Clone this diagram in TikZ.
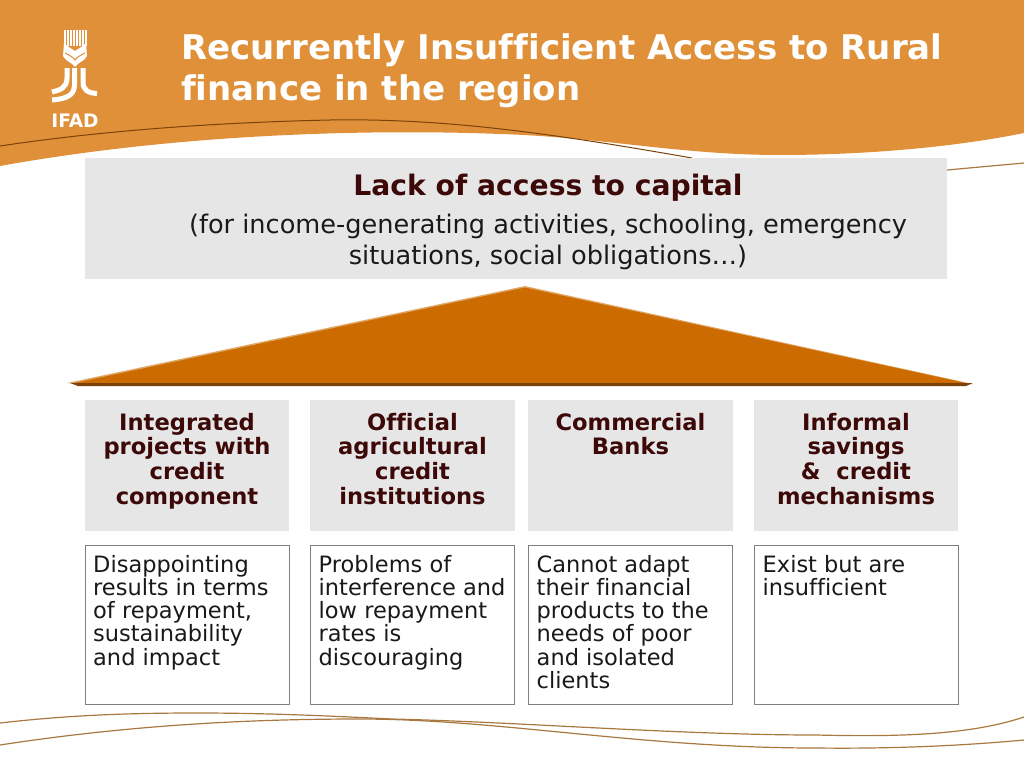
\documentclass[tikz,border=0pt]{standalone}
\usepackage{fontspec}
\setmainfont[Ligatures=NoCommon]{DejaVu Sans}
\definecolor{bandorange}{HTML}{E09038}
\definecolor{roofbrown}{HTML}{CC6C00}
\definecolor{roofdark}{HTML}{7A4208}
\definecolor{rooflight}{HTML}{E0A868}
\definecolor{panelgray}{HTML}{E6E6E6}
\definecolor{darkmaroon}{HTML}{3C0808}
\definecolor{curvebrown}{HTML}{A87840}
\tikzset{
  titletext/.style={anchor=west,text=white,font=\fontsize{34}{41}\selectfont\bfseries,align=left,inner sep=0pt},
  headbox/.style={fill=panelgray,minimum width=204.5,minimum height=131,inner sep=0pt},
  headtext/.style={anchor=north,text=darkmaroon,font=\fontsize{22.6}{24.6}\selectfont\bfseries,align=center,inner sep=0pt},
  bodybox/.style={draw=black!50,line width=1,anchor=north west,minimum width=204,minimum height=158.5},
  bodytext/.style={anchor=north west,align=left,inner sep=0pt,font=\fontsize{22.5}{23.2}\selectfont,text=black!90},
  wave/.style={draw=curvebrown,line width=1.2},
  logostem/.style={draw=white,line width=5}
}
\begin{document}
\begin{tikzpicture}[x=1pt,y=-1pt]
    \useasboundingbox (0,0) rectangle (1024,768);
    % band and curves
    \fill[bandorange] (0,0) -- (1024,0) -- (1024,133) .. controls (950,148) and (860,155) .. (780,155) .. controls (680,155) and (600,137) .. (500,134) .. controls (400,130) and (200,130) .. (0,166) -- cycle;
    \draw[roofdark,line width=1] (0,146) .. controls (120,128) and (240,122) .. (330,120) .. controls (450,118) and (560,135) .. (692,158);
    \draw[curvebrown,line width=1.2] (947,170) -- (1024,163);
    \draw[wave] (0,723) .. controls (70,715) and (130,713) .. (196,713) .. controls (270,713) and (330,716) .. (392,719) .. controls (520,722) and (680,735) .. (816,735) .. controls (900,737) and (970,735) .. (1024,717);
    \draw[wave] (0,745) .. controls (130,725) and (250,719) .. (359,719) .. controls (500,719) and (640,748) .. (816,748) .. controls (900,749) and (970,745) .. (1024,740);
    % logo
    \foreach \x in {65,68,71,74,77,80,83,86}
      \draw[white,line width=1.2] (\x,30) -- (\x,46);
    \fill[white] (64,43) .. controls (68,47) and (72,49) .. (75,51) .. controls (78,49) and (82,47) .. (86,43) -- (87,56) .. controls (84,62) and (78,62) .. (75,67) .. controls (72,62) and (66,62) .. (63,56) -- cycle;
    \draw[bandorange,line width=1] (65,53) .. controls (69,55) and (73,57) .. (75,60) .. controls (77,57) and (81,55) .. (85,53);
    \draw[logostem] (67,68) -- (67,78) .. controls (67,88) and (60,90) .. (52,92);
    \draw[logostem] (74.5,68) -- (74.5,85) .. controls (74.5,96) and (65,99) .. (52,100);
    \draw[logostem] (83,68) -- (83,82) .. controls (83,90) and (88,93) .. (97,93.5);
    \node[text=white,font=\fontsize{18.6}{18.6}\selectfont\bfseries,inner sep=0pt] (LOGO) at (75,120.5) {IFAD};
    % title
    \node[titletext] (TITLE) at (181,71) {Recurrently Insufficient Access to Rural\\finance in the region};
    % top panel
    \fill[panelgray] (85,158) rectangle (947,278.5);
    \node[text=darkmaroon,font=\fontsize{28.2}{30}\selectfont\bfseries,inner sep=0pt] (LACK) at (548,188) {Lack of access to capital};
    \node[text=black!90,font=\fontsize{25.6}{30.5}\selectfont,align=center,inner sep=0pt] (WHY) at (548,242) {(for income-generating activities, schooling, emergency\\situations, social obligations\ldots)};
    % roof
    \fill[rooflight] (67,383) -- (525,286) -- (973,384) -- cycle;
    \fill[roofbrown] (72,383.5) -- (525,287.5) -- (968,383.5) -- cycle;
    \fill[roofdark] (70,383) -- (973,383) -- (966,386) -- (78,386) -- cycle;
    % columns
    \node[headbox] (H1) at (187,465.5) {};
    \node[headbox] (H2) at (412.5,465.5) {};
    \node[headbox] (H3) at (630.5,465.5) {};
    \node[headbox] (H4) at (856,465.5) {};
    \node[headtext] at (187,413) {Integrated\\projects with\\credit\\component};
    \node[headtext] at (412.5,413) {Official\\agricultural\\credit\\institutions};
    \node[headtext] at (630.5,413) {Commercial\\Banks};
    \node[headtext] at (856,413) {Informal\\savings\\\&\ \ credit\\mechanisms};
    \node[bodybox] (B1) at (85,545) {};
    \node[bodybox] (B2) at (310,545) {};
    \node[bodybox] (B3) at (528,545) {};
    \node[bodybox] (B4) at (754,545) {};
    \node[bodytext] at (93,555) {Disappointing\\results in terms\\of repayment,\\sustainability\\and impact};
    \node[bodytext] at (318.5,555) {Problems of\\interference and\\low repayment\\rates is\\discouraging};
    \node[bodytext] at (536.5,555) {Cannot adapt\\their financial\\products to the\\needs of poor\\and isolated\\clients};
    \node[bodytext] at (762.5,555) {Exist but are\\insufficient};
\end{tikzpicture}
\end{document}
